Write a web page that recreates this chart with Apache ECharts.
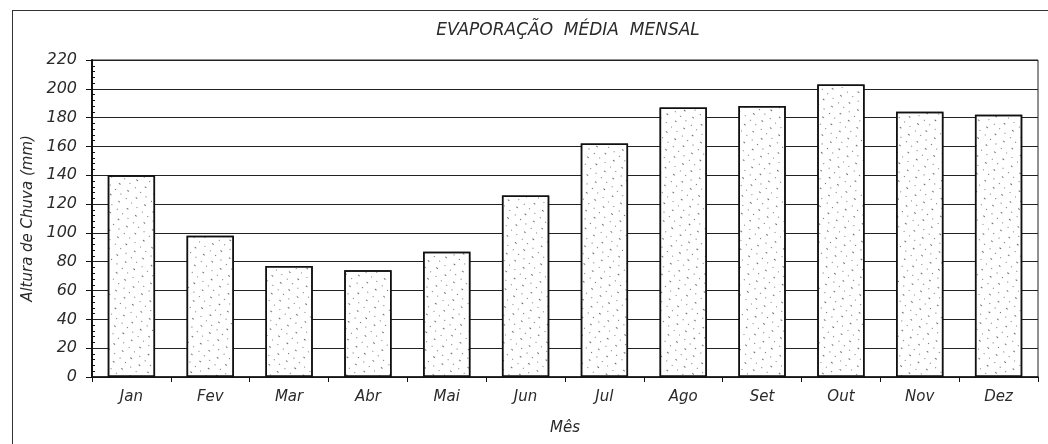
<!DOCTYPE html>
<html>
<head>
    <meta http-equiv="Content-Type" content="text/html; charset=utf-8"/>
    <title>Evaporação média mensal</title>
    <script src="https://cdn.jsdelivr.net/npm/echarts@6/dist/echarts.min.js"></script>
    <style>
        html, body { margin: 0; padding: 0; background: #fff; }
        #wrap { position: relative; width: 1048px; height: 444px; }
        #frame { position: absolute; left: 12px; top: 10px; right: 0; bottom: 0;
                 border-left: 1px solid #333; border-top: 1px solid #333; }
        #main { position: absolute; left: 0; top: 0; width: 1048px; height: 444px; }
    </style>
</head>
<body>
<div id="wrap">
    <div id="frame"></div>
    <div id="main"></div>
</div>
<script type="text/javascript">
    // dados
    var meses = ['Jan', 'Fev', 'Mar', 'Abr', 'Mai', 'Jun', 'Jul', 'Ago', 'Set', 'Out', 'Nov', 'Dez'];
    var evaporacao = [140, 98, 77, 74, 87, 126, 162, 187, 188, 203, 184, 182];
    var yMin = 0, yMax = 220, yStep = 20;

    var fonte = {
        fontFamily: 'DejaVu Sans',
        fontStyle: 'italic',
        color: '#2a2a2a'
    };

    var myChart = echarts.init(document.getElementById('main'), null, {renderer: 'canvas'});

    myChart.setOption({
        animation: false,
        title: {
            text: 'EVAPORAÇÃO  MÉDIA  MENSAL',
            left: 563,
            textAlign: 'center',
            top: 17,
            textStyle: Object.assign({fontSize: 17, fontWeight: 'normal'}, fonte)
        },
        grid: {
            left: 92,
            right: 10,
            top: 60,
            bottom: 67,
            show: true,
            borderColor: '#222',
            borderWidth: 1
        },
        xAxis: {
            type: 'category',
            data: meses,
            name: 'Mês',
            nameLocation: 'middle',
            nameGap: 44,
            nameTextStyle: Object.assign({fontSize: 15}, fonte),
            axisLine: {lineStyle: {color: '#111', width: 1.5}},
            axisTick: {show: true, length: 5, lineStyle: {color: '#111'}},
            axisLabel: Object.assign({fontSize: 15, margin: 13}, fonte)
        },
        yAxis: [
            {
                type: 'value',
                min: yMin,
                max: yMax,
                interval: yStep,
                name: 'Altura de Chuva (mm)',
                nameLocation: 'middle',
                nameGap: 54,
                nameTextStyle: Object.assign({fontSize: 15}, fonte),
                axisLine: {show: true, lineStyle: {color: '#111', width: 2}},
                axisTick: {show: true, length: 6, lineStyle: {color: '#111'}},
                axisLabel: Object.assign({fontSize: 16, margin: 15}, fonte),
                splitLine: {show: true, lineStyle: {color: '#222', width: 1}}
            },
            {
                // só os traços menores, virados para dentro
                type: 'value',
                min: yMin,
                max: yMax,
                interval: yStep,
                position: 'left',
                axisLine: {show: false},
                axisTick: {show: false, inside: true},
                axisLabel: {show: false},
                splitLine: {show: false},
                minorTick: {show: true, splitNumber: 5, length: 3, lineStyle: {color: '#111'}}
            }
        ],
        series: [
            {
                name: 'Evaporação',
                type: 'bar',
                yAxisIndex: 0,
                barCategoryGap: '40%',
                itemStyle: {
                    color: '#fff',
                    borderColor: '#111',
                    borderWidth: 1.5,
                    decal: {
                        symbol: 'rect',
                        symbolSize: 1,
                        color: 'rgba(0,0,0,0.55)',
                        dashArrayX: [[2, 9], [1, 6]],
                        dashArrayY: [1, 6],
                        rotation: 0.7
                    }
                },
                data: evaporacao
            }
        ]
    });
</script>
</body>
</html>
